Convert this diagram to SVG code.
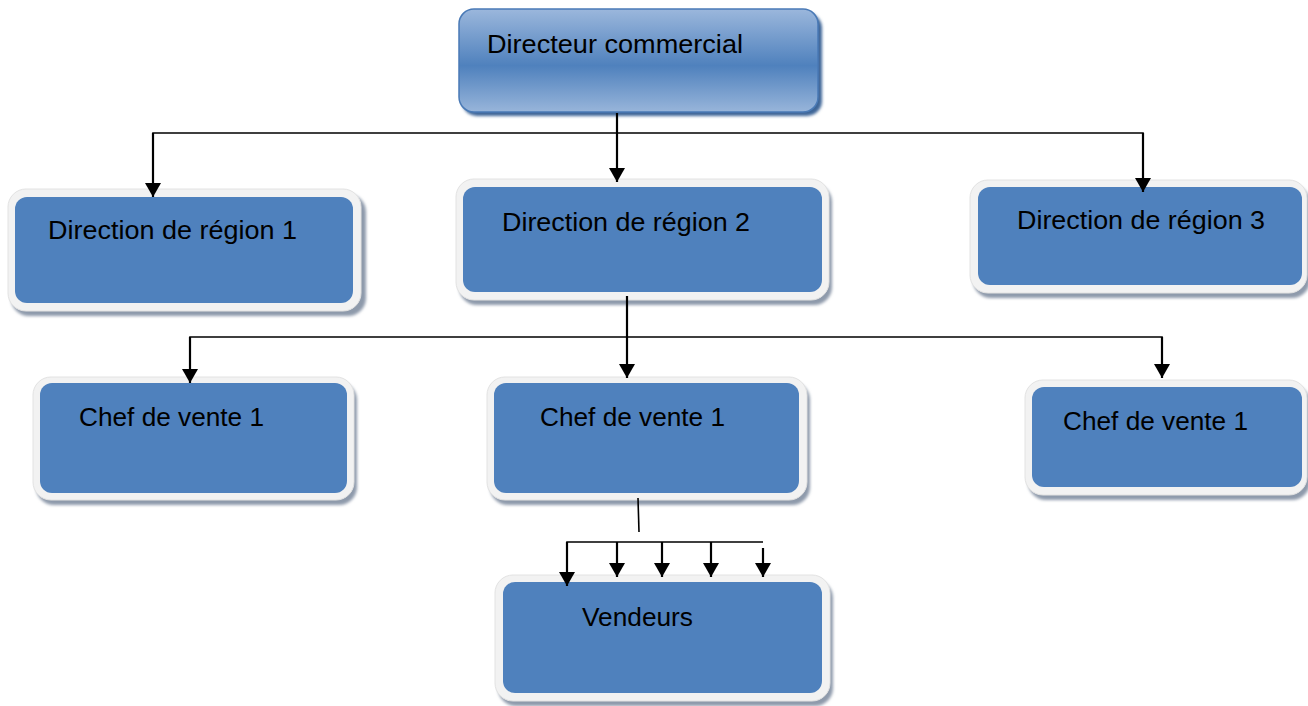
<svg xmlns="http://www.w3.org/2000/svg" width="1308" height="706" viewBox="0 0 1308 706">
<defs>
<linearGradient id="topg" x1="0" y1="0" x2="0" y2="1">
<stop offset="0" stop-color="#9bb7dc"/>
<stop offset="0.55" stop-color="#4f81bd"/>
<stop offset="1" stop-color="#98b5da"/>
</linearGradient>
<filter id="blur" x="-10%" y="-10%" width="120%" height="130%">
<feGaussianBlur stdDeviation="1.6"/>
</filter>
<marker id="ah" viewBox="0 0 14 16" refX="14" refY="8" markerWidth="14" markerHeight="16" markerUnits="userSpaceOnUse" orient="auto">
<path d="M0,0 L14,8 L0,16 Z" fill="#000"/>
</marker>
</defs>
<style>
.shadow{fill:#8e9aab;filter:url(#blur)}
.frame{fill:#f2f2f2;stroke:#e2e2e2;stroke-width:1}
.body{fill:#4f81bd}
.lbl{font-family:"Liberation Sans",Arial,sans-serif;font-size:25px;fill:#000}
.hl{stroke:#000;stroke-width:1.6;fill:none}
.ar{stroke:#000;stroke-width:2.2;fill:none}
</style>
<rect width="1308" height="706" fill="#fff"/>

<g id="directeur">
<rect x="462" y="13" width="360" height="103" rx="15" fill="#3d6597" filter="url(#blur)"/>
<rect x="459" y="9" width="359" height="103" rx="15" fill="url(#topg)" stroke="#4a7ab6" stroke-width="1.5"/>
<text class="lbl" x="487" y="53" textLength="256" lengthAdjust="spacingAndGlyphs">Directeur commercial</text>
</g>

<g id="region1">
<rect class="shadow" x="11" y="194" width="355" height="122" rx="18"/>
<rect class="frame" x="8" y="189" width="353" height="122" rx="18"/>
<rect class="body" x="15" y="197" width="338" height="106" rx="12"/>
<text class="lbl" x="48" y="239" textLength="249" lengthAdjust="spacingAndGlyphs">Direction de région 1</text>
</g>

<g id="region2">
<rect class="shadow" x="459" y="184" width="373" height="121" rx="18"/>
<rect class="frame" x="456" y="179" width="373" height="121" rx="18"/>
<rect class="body" x="463" y="187" width="359" height="105" rx="12"/>
<text class="lbl" x="502" y="231" textLength="248" lengthAdjust="spacingAndGlyphs">Direction de région 2</text>
</g>

<g id="region3">
<rect class="shadow" x="973" y="185" width="337" height="113" rx="18"/>
<rect class="frame" x="970" y="180" width="337" height="113" rx="18"/>
<rect class="body" x="978" y="187" width="324" height="98" rx="12"/>
<text class="lbl" x="1017" y="229" textLength="248" lengthAdjust="spacingAndGlyphs">Direction de région 3</text>
</g>

<g id="chef1">
<rect class="shadow" x="36" y="382" width="321" height="123" rx="18"/>
<rect class="frame" x="33" y="377" width="321" height="123" rx="18"/>
<rect class="body" x="40" y="383" width="307" height="110" rx="12"/>
<text class="lbl" x="79" y="426" textLength="185" lengthAdjust="spacingAndGlyphs">Chef de vente 1</text>
</g>

<g id="chef2">
<rect class="shadow" x="490" y="382" width="320" height="123" rx="18"/>
<rect class="frame" x="487" y="377" width="320" height="123" rx="18"/>
<rect class="body" x="494" y="383" width="305" height="110" rx="12"/>
<text class="lbl" x="540" y="426" textLength="185" lengthAdjust="spacingAndGlyphs">Chef de vente 1</text>
</g>

<g id="chef3">
<rect class="shadow" x="1028" y="385" width="282" height="115" rx="18"/>
<rect class="frame" x="1025" y="380" width="282" height="115" rx="18"/>
<rect class="body" x="1032" y="387" width="270" height="100" rx="12"/>
<text class="lbl" x="1063" y="430" textLength="185" lengthAdjust="spacingAndGlyphs">Chef de vente 1</text>
</g>

<g id="vendeurs">
<rect class="shadow" x="498" y="580" width="335" height="126" rx="18"/>
<rect class="frame" x="495" y="575" width="335" height="126" rx="18"/>
<rect class="body" x="503" y="582" width="319" height="111" rx="12"/>
<text class="lbl" x="582" y="626" textLength="111" lengthAdjust="spacingAndGlyphs">Vendeurs</text>
</g>

<g id="connectors">
<line class="ar" x1="617" y1="113" x2="617" y2="182" marker-end="url(#ah)"/>
<polyline class="hl" points="153,150 153,133 1143,133 1143,150"/>
<line class="ar" x1="153" y1="133" x2="153" y2="197" marker-end="url(#ah)"/>
<line class="ar" x1="1143" y1="133" x2="1143" y2="192" marker-end="url(#ah)"/>
<line class="ar" x1="627" y1="296" x2="627" y2="378" marker-end="url(#ah)"/>
<polyline class="hl" points="190,350 190,337 1162,337 1162,350"/>
<line class="ar" x1="190" y1="337" x2="190" y2="383" marker-end="url(#ah)"/>
<line class="ar" x1="1162" y1="337" x2="1162" y2="378" marker-end="url(#ah)"/>
<line class="hl" x1="638" y1="498" x2="639" y2="532"/>
<polyline class="hl" points="567,552 567,542 763,542"/>
<line class="ar" x1="567" y1="542" x2="567" y2="586" marker-end="url(#ah)"/>
<line class="ar" x1="617" y1="542" x2="617" y2="577" marker-end="url(#ah)"/>
<line class="ar" x1="662" y1="542" x2="662" y2="577" marker-end="url(#ah)"/>
<line class="ar" x1="711" y1="542" x2="711" y2="577" marker-end="url(#ah)"/>
<line class="ar" x1="763" y1="548" x2="763" y2="577" marker-end="url(#ah)"/>
</g>
</svg>
